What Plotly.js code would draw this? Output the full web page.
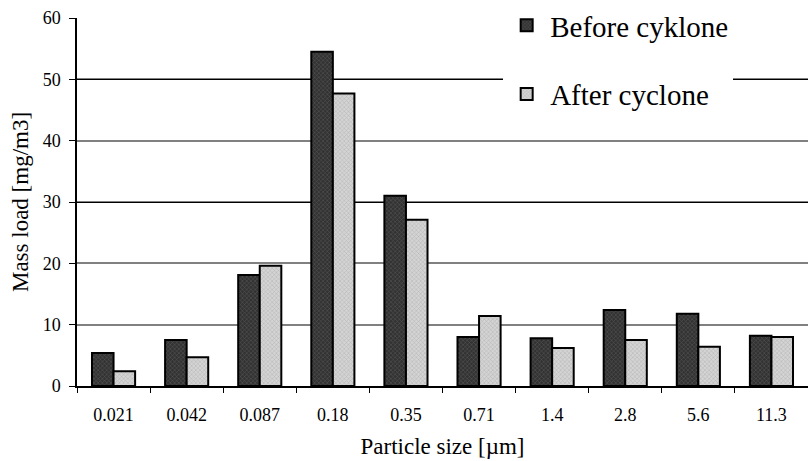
<!DOCTYPE html>
<html><head><meta charset="utf-8">
<script src="https://cdn.plot.ly/plotly-3.0.1.min.js"></script>
<style>body{margin:0;padding:0;background:#fff}#c{width:808px;height:461px}</style>
</head><body><div id="c"></div>
<script>
const categories = ["0.021","0.042","0.087","0.18","0.35","0.71","1.4","2.8","5.6","11.3"];
const beforeCyklone = [5.4, 7.5, 18.1, 54.5, 31.0, 8.0, 7.8, 12.4, 11.8, 8.2];
const afterCyclone = [2.4, 4.7, 19.6, 47.7, 27.1, 11.4, 6.2, 7.5, 6.4, 8.0];
const yTicks = [0,10,20,30,40,50,60];
const blackGridTicks = [30,50];

const font = "'Liberation Serif', 'Times New Roman', serif";
const traces = [
  {type:'bar', name:'Before cyklone', x:categories, y:beforeCyklone, legendgroup:'a',
   marker:{color:'#3a3a3a', line:{color:'#000', width:2},
     pattern:{shape:'x', fgcolor:'#5a5a5a', bgcolor:'#323232', size:3, solidity:0.3}}},
  {type:'bar', name:'After cyclone', x:categories, y:afterCyclone, legendgroup:'b',
   marker:{color:'#cccccc', line:{color:'#000', width:2},
     pattern:{shape:'x', fgcolor:'#b0b0b0', bgcolor:'#d4d4d4', size:3, solidity:0.3}}},
  {type:'bar', x:[], y:[], yaxis:'y2', showlegend:false, hoverinfo:'skip'}
];
const layout = {
  width:808, height:461,
  margin:{l:77, r:0, t:18, b:75},
  paper_bgcolor:'#fff', plot_bgcolor:'#fff',
  font:{family:font, color:'#000', size:18},
  barmode:'group', bargap:0.41, bargroupgap:0,
  showlegend:true,
  legend:{x:0.583, y:1.05, xanchor:'left', yanchor:'top', bgcolor:'#fff',
    font:{family:font, size:29}, tracegroupgap:28, traceorder:'grouped',
    itemwidth:37},
  xaxis:{type:'category', showline:true, linecolor:'#000', linewidth:1.5,
    ticks:'outside', ticklen:5, tickcolor:'#000', tickson:'boundaries',
    ticklabelstandoff:12,
    tickfont:{family:font, size:18}, showgrid:false,
    title:{text:'Particle size [µm]', font:{family:font, size:23}, standoff:14}},
  yaxis:{range:[0,60], tickvals:yTicks, showline:true, linecolor:'#000', linewidth:1.5,
    ticks:'outside', ticklen:6, tickcolor:'#000', ticklabelstandoff:5,
    showgrid:true, gridcolor:'#808080', gridwidth:1.6,
    zeroline:false, tickfont:{family:font, size:18},
    title:{text:'Mass load [mg/m3]', font:{family:font, size:23}, standoff:8}},
  yaxis2:{range:[0,60], overlaying:'y', side:'left', tickvals:blackGridTicks,
    showticklabels:false, ticks:'', showline:false, zeroline:false,
    showgrid:true, gridcolor:'#000', gridwidth:1}
};
Plotly.newPlot('c', traces, layout, {displayModeBar:false});
</script></body></html>
